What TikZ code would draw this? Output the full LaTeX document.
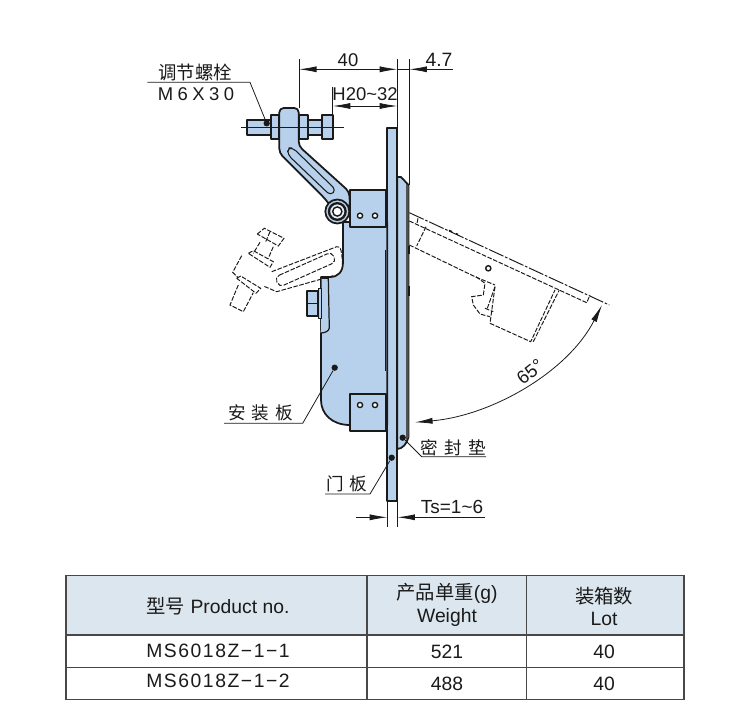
\documentclass[tikz,border=0pt]{standalone}
\usepackage{fontspec}
\setmainfont{Liberation Sans}
\newfontfamily\cjk{Noto Sans CJK SC}
\newfontfamily\cjkwide[LetterSpace=35]{Noto Sans CJK SC}
\usetikzlibrary{arrows.meta}
\definecolor{plateblue}{HTML}{B7D1EC}
\definecolor{headgrey}{HTML}{DCE6EE}
\definecolor{darkline}{HTML}{1A1A1A}
\begin{document}
\begin{tikzpicture}[x=0.02cm,y=-0.02cm,
		part/.style={draw=darkline,fill=plateblue,line width=1pt,line join=round},
		hidden/.style={draw=darkline,line width=0.55pt,dash pattern=on 2.6pt off 0.9pt},
		swing/.style={draw=darkline,line width=0.55pt,dash pattern=on 9pt off 1pt on 1.5pt off 1pt},
		thin/.style={draw=darkline,line width=0.45pt},
		dimline/.style={thin,>={Latex[length=10pt,width=3.4pt]}},
		dot/.style={fill=darkline,circle,inner sep=0pt,minimum size=3.6pt},
		lbl/.style={inner sep=0pt,text=darkline,font=\fontsize{10.5}{12}\selectfont},
		cjklbl/.style={inner sep=0pt,text=darkline,font=\fontsize{10.5}{12}\selectfont\cjk},
		wlbl/.style={inner sep=0pt,text=darkline,font=\fontsize{10}{12}\selectfont\cjkwide},
		cell/.style={inner sep=0pt,align=center,text=darkline,font=\fontsize{11}{13}\selectfont},
		grid/.style={draw=darkline!80,line width=0.65pt}]
	\useasboundingbox (0,0) rectangle (750,722);

	\draw[hidden] (257.3,234)--(264.3,228.3)--(284,238.3)--(278.3,246)--cycle;
	\draw[hidden] (270,231.7)--(265.7,241.7);
	\draw[hidden] (260,242.3)--(253.3,253.3);
	\draw[hidden] (273.3,246.7)--(268.3,258.3);
	\draw[hidden] (248.3,253.3)--(253.3,250.7)--(273.3,261.7)--(270,267.3)--cycle;
	\draw[hidden] (241.7,255.7)--(232.7,272.3)--(238,277.7);
	\draw[hidden] (236.7,278.3)--(240.7,276)--(260.7,288.3)--(256,293.3)--cycle;
	\draw[hidden] (238.3,285)--(230,305)--(243.3,311.7)--(253.3,292.7);
	\draw[hidden] (271.7,271.7)--(336.7,246.7) .. controls (341,246) and (342,250) .. (342.7,270);
	\draw[hidden] (333.3,275.7)--(276.7,291.7)--(263.3,286);
	\draw[hidden,rounded corners=2.8pt] (274.8,277.2)--(331.8,251.8)--(336.2,261.8)--(279.2,287.2)--cycle;

	\draw[swing] (409.3,212.7)--(609.3,305);
	\draw[hidden] (409.3,221)--(586.7,302.7)--(590,295);
	\draw[hidden] (418,218.3)--(416.7,225);
	\draw[hidden] (426,226.7)--(416.7,246);
	\draw[hidden] (409.3,245)--(475,276.7)--(495,285);
	\draw[hidden] (476,276.7)--(485,283.3)--(483.3,295)--(471.7,296.7)--(473.3,305)--(480,314)--(490,316.7);
	\draw[hidden] (495,286.7)--(490,323.3);
	\draw[hidden] (495,286.7)--(487.3,308.3);
	\draw[hidden] (485,308.3)--(493.3,311.7);
	\draw[hidden] (490,323.3)--(530.7,341.7)--(555,290);
	\draw[hidden] (533.3,341.7)--(559.3,290);
	\draw[draw=darkline,line width=0.8pt] (488.3,268.3) circle (2.6);
	\draw[draw=darkline,line width=0.9pt] (449,230.4)--(452,231.8);
	\draw[draw=darkline,line width=0.9pt] (456,233.6)--(458,234.6);

	\draw[part] (397.3,177)--(401,177)--(408.5,185)--(408.5,437) .. controls (407,444) and (402,449) .. (397.3,449)--cycle;
	\fill[darkline!75] (406.2,184)--(408.7,186)--(408.7,437)--(406.2,440)--cycle;
	\draw[draw=darkline,line width=1pt] (408.8,246)--(408.8,254);
	\draw[draw=darkline,line width=1pt] (408.8,286)--(408.8,296);
	\draw[part] (387.3,127.7) rectangle (397.3,501);

	\draw[part] (343,222)--(343,262) .. controls (343,272) and (338,277) .. (330,277)--(321,277)--(321,400) .. controls (321,414) and (332,425) .. (350,425)--(387.3,425)--(387.3,222)--cycle;
	\draw[draw=darkline,line width=0.8pt] (385.7,250)--(385.7,371);
	\draw[part,line width=0.7pt] (321.7,278.3)--(328.3,278.3)--(329.3,328) .. controls (329,331) and (325,333) .. (320.7,333);
	\draw[part] (318.3,290.7)--(318.3,316)--(307.3,316)--(307.3,290.7)--cycle;
	\draw[draw=darkline,line width=0.7pt] (307.3,303.3)--(318.3,303.3);
	\draw[part,line width=0.5pt] (318.3,288)--(321,288)--(321,318)--(318.3,318)--cycle;

	\draw[part,rounded corners=2.5pt] (279.3,108)--(298.7,108)--(298.7,146)--(349.3,191.7)--(350,208)--(332,208)--(325.3,199)--(279.3,153)--cycle;
	\draw[part,line width=0.6pt,rounded corners=2.4pt] (287.5,148)--(293,148)--(336,190)--(330.5,195.5)--(288,155)--cycle;
	\draw[part] (247.3,120) rectangle (271,134.7);
	\draw[part] (307.7,120) rectangle (322.3,134.7);
	\draw[part] (271,115) rectangle (279.3,139.3);
	\draw[part] (298.7,115) rectangle (307.7,139.3);
	\draw[part] (322.3,115) rectangle (333.3,139.3);
	\draw[thin] (271,127.3)--(279.3,127.3) (298.7,127.3)--(307.7,127.3) (322.3,127.3)--(333.3,127.3);
	\draw[thin] (240.7,127.3)--(344,127.3);

	\draw[part] (337.3,211.5) circle (12);
	\draw[draw=darkline,fill=plateblue!40,line width=1.3pt] (337.3,211.5) circle (8.3);
	\draw[draw=darkline,fill=white,line width=0.8pt] (337.3,211.5) circle (4.6);

	\draw[part] (350,190) rectangle (385.7,227.3);
	\draw[part,fill=white,line width=0.8pt] (360,215.7) circle (2.6);
	\draw[part,fill=white,line width=0.8pt] (375,215.7) circle (2.6);
	\draw[part] (350,394) rectangle (385.7,431);
	\draw[part,fill=white,line width=0.8pt] (360,405) circle (2.6);
	\draw[part,fill=white,line width=0.8pt] (375,405) circle (2.6);

	\coordinate (ext40a) at (299,59);
	\coordinate (ext40b) at (397.3,59);
	\coordinate (dim40a) at (299,69.3);
	\coordinate (dim40b) at (397.3,69.3);
	\coordinate (ext47b) at (409.3,59);
	\coordinate (dim47b) at (409.3,69.3);
	\coordinate (dim47r) at (452.7,69.3);
	\coordinate (extha) at (332.7,87);
	\coordinate (dimha) at (332.7,106);
	\coordinate (dimhb) at (397.3,106);
	\coordinate (tsa) at (387.3,517.3);
	\coordinate (tsb) at (397.3,517.3);
	\coordinate (tsl) at (356,517.3);
	\coordinate (tsr) at (485,517.3);
	\draw[thin] (ext40a)--(299,108);
	\draw[thin] (ext40b)--(397.3,127.7);
	\draw[thin] (ext47b)--(409.3,185);
	\draw[thin] (extha)--(332.7,115);
	\draw[thin] (387.3,501)--(387.3,527);
	\draw[thin] (397.3,501)--(397.3,527);
	\draw[dimline,<->] (dim40a)--(dim40b);
	\draw[thin] (dim40b)--(dim47b);
	\draw[dimline,->] (dim47r)--(dim47b);
	\draw[dimline,<->] (dimha)--(dimhb);
	\draw[dimline,->] (tsl)--(tsa);
	\draw[dimline,->] (tsr)--(tsb);
	\draw[dimline,<->] (602,305) .. controls (567.5,372.7) and (490.6,415.8) .. (415,422.3);

	\node[lbl] (l40) at (348,60) {40};
	\node[lbl,font=\fontsize{11}{12}\selectfont] (l47) at (439,60) {4.7};
	\node[lbl] (lh) at (365,94) {H20\textasciitilde32};
	\node[lbl,font=\fontsize{10.8}{12}\selectfont] (lts) at (452,507) {Ts=1\textasciitilde6};
	\node[lbl,rotate=38] (l65) at (530,372) {65°};

	\node[dot] (boltdot) at (266.7,123.3) {};
	\node[dot] (platedot) at (334.7,367.7) {};
	\node[dot] (sealdot) at (402.7,437.7) {};
	\node[dot] (doordot) at (391.7,457.7) {};
	\coordinate (boltbend) at (250,82.3);
	\coordinate (boltend) at (147.3,82.3);
	\coordinate (platebend) at (302.7,423.3);
	\coordinate (plateend) at (224,423.3);
	\coordinate (sealbend) at (421.7,456.7);
	\coordinate (sealend) at (486,456.7);
	\coordinate (doorbend) at (370,494);
	\coordinate (doorend) at (325,494);
	\draw[thin] (boltdot)--(boltbend)--(boltend);
	\draw[thin] (platedot)--(platebend)--(plateend);
	\draw[thin] (sealdot)--(sealbend)--(sealend);
	\draw[thin] (doordot)--(doorbend)--(doorend);

	\node[cjklbl] (lbolt) at (195.3,72.7) {调节螺栓};
	\node[lbl,font=\fontsize{10.5}{12}\addfontfeatures{LetterSpace=24}\selectfont] (lsize) at (196,94) {M6X30};
	\node[wlbl] (lplate) at (260.7,412.7) {安装板};
	\node[wlbl] (lseal) at (453.3,447.3) {密封垫};
	\node[wlbl] (ldoor) at (346.7,484.3) {门板};

	\fill[headgrey] (66,575.7) rectangle (684,635);
	\draw[grid] (66,575.7) rectangle (684,699.3);
	\draw[grid] (66,635)--(684,635);
	\draw[grid] (66,667.3)--(684,667.3);
	\draw[grid] (367,575.7)--(367,699.3);
	\draw[grid] (526.5,575.7)--(526.5,699.3);

	\node[cell] (hproduct) at (218,606) {{\cjk 型号} Product no.};
	\node[cell] (hweight) at (447,604.5) {{\cjk 产品单重}(g)\\Weight};
	\node[cell] (hlot) at (604,606.5) {{\cjk 装箱数}\\Lot};
	\node[cell,font=\fontsize{11}{13}\addfontfeatures{LetterSpace=8}\selectfont] (rowa) at (218,651) {MS6018Z\textminus 1\textminus 1};
	\node[cell] (weighta) at (447,652) {521};
	\node[cell] (lota) at (604,652) {40};
	\node[cell,font=\fontsize{11}{13}\addfontfeatures{LetterSpace=8}\selectfont] (rowb) at (218,681) {MS6018Z\textminus 1\textminus 2};
	\node[cell] (weightb) at (447,684) {488};
	\node[cell] (lotb) at (604,684) {40};
\end{tikzpicture}
\end{document}
